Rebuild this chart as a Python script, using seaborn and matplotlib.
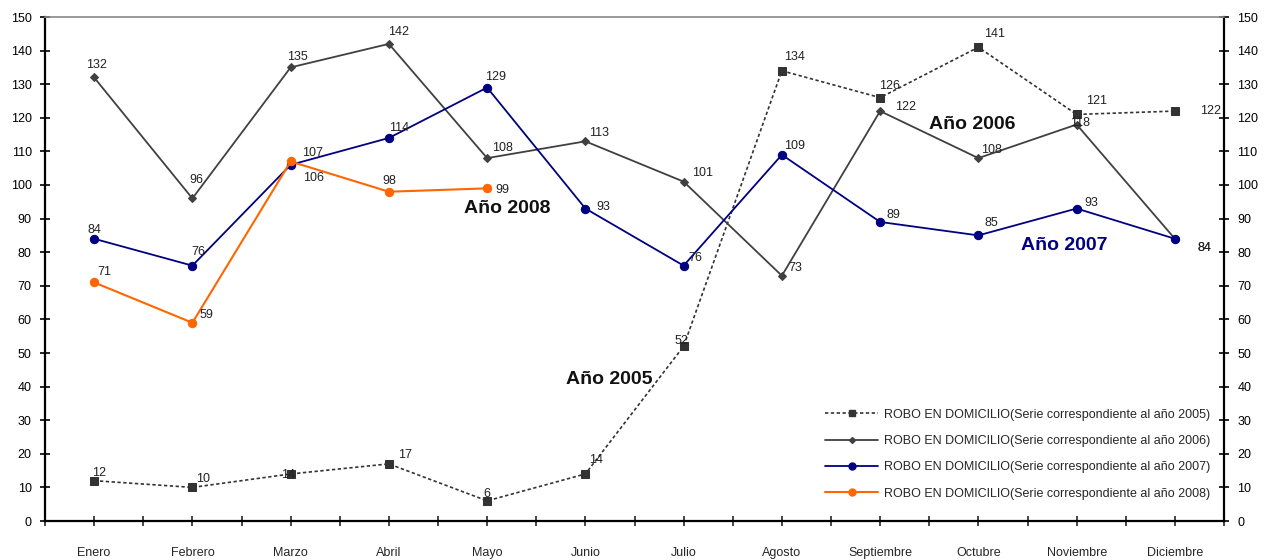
import matplotlib
matplotlib.use("Agg")
import matplotlib.pyplot as plt
from matplotlib.lines import Line2D
import seaborn as sns
import pandas as pd
import numpy as np

months = ["Enero", "Febrero", "Marzo", "Abril", "Mayo", "Junio", "Julio",
          "Agosto", "Septiembre", "Octubre", "Noviembre", "Diciembre"]
y2005 = [12, 10, 14, 17, 6, 14, 52, 134, 126, 141, 121, 122]
y2006 = [132, 96, 135, 142, 108, 113, 101, 73, 122, 108, 118, 84]
y2007 = [84, 76, 106, 114, 129, 93, 76, 109, 89, 85, 93, 84]
y2008 = [71, 59, 107, 98, 99]
legend_labels = [
    "ROBO EN DOMICILIO(Serie correspondiente al año 2005)",
    "ROBO EN DOMICILIO(Serie correspondiente al año 2006)",
    "ROBO EN DOMICILIO(Serie correspondiente al año 2007)",
    "ROBO EN DOMICILIO(Serie correspondiente al año 2008)",
]

sns.set_style("ticks")
plt.rcParams["font.family"] = ["Liberation Sans", "DejaVu Sans"]

fig = plt.figure(figsize=(12.64, 5.6), dpi=100)
ax = fig.add_axes([45/1264, 1-521/560, (1224-45)/1264, (521-17)/560])

styles = [
    dict(color="#333333", linestyle=(0, (2, 1.5)), marker="s", markersize=6, lw=1.2),
    dict(color="#404040", linestyle="-", marker="D", markersize=4, lw=1.3),
    dict(color="#000080", linestyle="-", marker="o", markersize=6, lw=1.3),
    dict(color="#FF6600", linestyle="-", marker="o", markersize=6, lw=1.5),
]
series = [y2005, y2006, y2007, y2008]

# label offsets in pixels (dx, dy), style only
offsets = [
    [(5, 8), (11, 8), (-3, -1), (16, 9), (0, 7), (11, 14), (-2, 5), (13, 14), (9, 12), (16, 13), (20, 13), (36, 0)],
    [(2, 12), (4, 18), (7, 10), (10, 12), (15, 10), (14, 8), (19, 9), (13, 8), (25, 4), (13, 8), (3, 2), (30, -9)],
    [(0, 9), (6, 14), (23, -13), (10, 10), (8, 11), (18, 2), (12, 8), (13, 9), (13, 7), (13, 12), (15, 6), (30, -9)],
    [(10, 10), (14, 8), (22, 8), (0, 11), (15, -2)],
]

for vals, st, offs in zip(series, styles, offsets):
    df = pd.DataFrame({"x": np.arange(len(vals)), "y": vals})
    sns.lineplot(data=df, x="x", y="y", ax=ax, color=st["color"], linestyle=st["linestyle"],
                 marker=st["marker"], markersize=st["markersize"], lw=st["lw"],
                 markeredgecolor=st["color"], markerfacecolor=st["color"])
    for i, v in enumerate(vals):
        ax.annotate(str(v), (i, v), xytext=offs[i], textcoords="offset pixels",
                    ha="center", va="center", fontsize=9, color="#222222")

ax.set_xlim(-0.5, 11.5)
ax.set_ylim(0, 150)
ax.set_yticks(range(0, 151, 10))
ax.set_xticks(range(12))
ax.set_xticklabels(months)
ax.set_xticks(np.arange(-0.5, 12, 1), minor=True)
ax.set_xlabel("")
ax.set_ylabel("")
ax.tick_params(axis="y", direction="inout", length=7, width=1.2, labelsize=9,
               right=True, labelright=True, colors="black", pad=6)
ax.tick_params(axis="x", which="both", direction="inout", length=7, width=1.2,
               labelsize=9, pad=15)
for s in ["left", "right", "bottom"]:
    ax.spines[s].set_color("black")
    ax.spines[s].set_linewidth(1.6)
ax.spines["top"].set_visible(True)
ax.spines["top"].set_color("#888888")
ax.spines["top"].set_linewidth(1.2)

ax.text(4.2, 93, "Año 2008", fontsize=14, fontweight="bold", ha="center", va="center", color="#111111")
ax.text(5.24, 42, "Año 2005", fontsize=14, fontweight="bold", ha="center", va="center", color="#111111")
ax.text(8.94, 118, "Año 2006", fontsize=14, fontweight="bold", ha="center", va="center", color="#111111")
ax.text(9.87, 82, "Año 2007", fontsize=14, fontweight="bold", ha="center", va="center", color="#000080")

handles = [Line2D([0], [0], color=st["color"], linestyle=st["linestyle"], marker=st["marker"],
                  markersize=st["markersize"] - 1, lw=st["lw"]) for st in styles]
ax.legend(handles, legend_labels, loc="lower right", bbox_to_anchor=(0.998, 0.02),
          frameon=False, fontsize=9, handlelength=4.2, labelspacing=1.15, handletextpad=0.5)

fig.savefig("out.png", dpi=100)
